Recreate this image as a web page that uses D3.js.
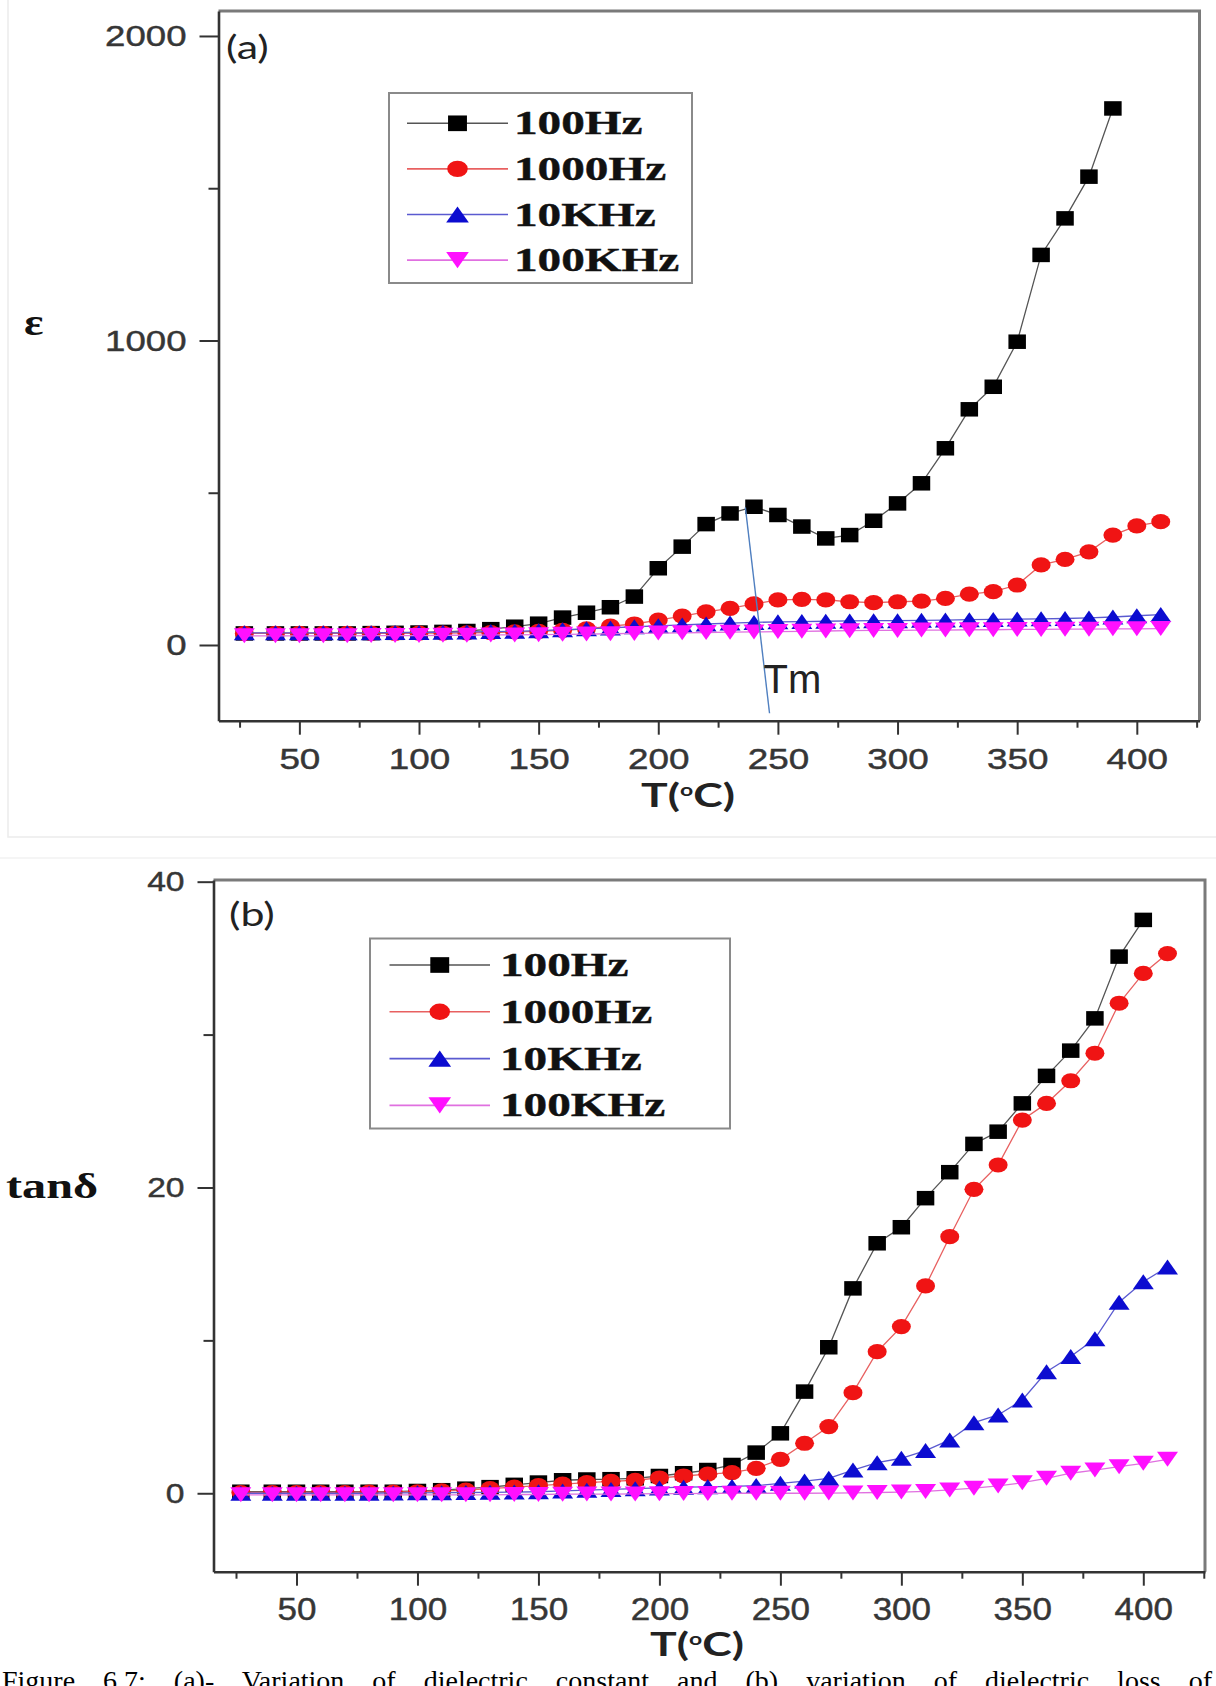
<!DOCTYPE html>
<html>
<head>
<meta charset="utf-8">
<script src="https://cdn.jsdelivr.net/npm/d3@7"></script>
<style>
  html, body { margin: 0; padding: 0; background: #fff; }
  svg { display: block; }
</style>
</head>
<body>
<svg id="fig" width="1216" height="1686"></svg>
<script>
// Measurement temperatures (°C)
const temps = [27, 40, 50, 60, 70, 80, 90, 100, 110, 120, 130, 140, 150, 160, 170, 180, 190, 200, 210, 220,
               230, 240, 250, 260, 270, 280, 290, 300, 310, 320, 330, 340, 350, 360, 370, 380, 390, 400, 410];

const freqLabels = ["100Hz", "1000Hz", "10KHz", "100KHz"];

// (a) dielectric constant ε
const eps100Hz   = [38, 38, 38, 38, 38, 39, 40, 41, 43, 46, 52, 60, 70, 90, 106, 124, 159, 252, 323, 397,
                    432, 454, 427, 389, 350, 361, 408, 465, 531, 646, 774, 848, 996, 1281, 1401, 1538, 1762];
const eps1000Hz  = [38, 38, 38, 38, 38, 38, 38, 39, 39, 40, 41, 43, 45, 48, 53, 62, 69, 82, 95, 109,
                    120, 135, 148, 150, 148, 142, 139, 142, 144, 153, 167, 175, 197, 263, 281, 306, 361, 391, 405];
const eps10KHz   = [40, 40, 40, 40, 40, 40, 41, 41, 42, 43, 44, 45, 47, 50, 53, 56, 60, 63, 66, 69,
                    72, 74, 76, 77, 78, 79, 80, 80, 81, 82, 83, 84, 85, 86, 87, 89, 92, 96, 100];
const eps100KHz  = [30, 30, 30, 30, 30, 31, 31, 31, 32, 32, 33, 33, 34, 35, 36, 37, 38, 39, 40, 41,
                    42, 43, 44, 45, 46, 47, 48, 48, 49, 49, 50, 50, 51, 51, 52, 52, 53, 53, 54];

// (b) dielectric loss tanδ
const tan100Hz   = [0.1, 0.1, 0.1, 0.1, 0.1, 0.1, 0.1, 0.15, 0.2, 0.3, 0.4, 0.55, 0.7, 0.85, 0.9, 0.92, 0.98, 1.13, 1.31, 1.52,
                    1.85, 2.66, 3.92, 6.65, 9.55, 13.4, 16.35, 17.4, 19.3, 21.0, 22.85, 23.65, 25.5, 27.3, 28.95, 31.06, 35.1, 37.5];
const tan1000Hz  = [0.05, 0.05, 0.05, 0.05, 0.05, 0.08, 0.08, 0.1, 0.15, 0.2, 0.3, 0.4, 0.5, 0.6, 0.7, 0.78, 0.85, 1.0, 1.13, 1.25,
                    1.35, 1.63, 2.22, 3.27, 4.36, 6.58, 9.26, 10.9, 13.56, 16.78, 19.88, 21.47, 24.41, 25.5, 26.98, 28.78, 32.05, 34.0, 35.3];
const tan10KHz   = [0.0, 0.0, 0.0, 0.0, 0.0, 0.0, 0.02, 0.03, 0.04, 0.05, 0.06, 0.08, 0.1, 0.15, 0.2, 0.25, 0.3, 0.35, 0.4, 0.42,
                    0.45, 0.5, 0.65, 0.8, 0.98, 1.52, 2.0, 2.29, 2.79, 3.49, 4.62, 5.12, 6.1, 7.95, 8.94, 10.1, 12.5, 13.84, 14.8];
const tan100KHz  = [-0.1, -0.1, -0.1, -0.1, -0.1, -0.1, -0.1, -0.1, -0.1, -0.1, -0.1, -0.08, -0.08, -0.06, -0.05, -0.05, -0.04, -0.03, -0.02, -0.01,
                    0.0, 0.0, 0.0, 0.0, 0.01, 0.02, 0.05, 0.08, 0.12, 0.22, 0.33, 0.48, 0.69, 0.98, 1.31, 1.52, 1.74, 1.96, 2.22];

// Tm guide line on (a): from the 100Hz maximum down below the axis
const tmLineT   = [236.4, 246.5];
const tmLineEps = [452, -224];

// Axis ticks
const xMajorTicks = [50, 100, 150, 200, 250, 300, 350, 400];
const xMinorTicks = [25, 75, 125, 175, 225, 275, 325, 375, 425];
const epsMajorTicks = [0, 1000, 2000];
const epsMinorTicks = [500, 1500];
const tanMajorTicks = [0, 20, 40];
const tanMinorTicks = [10, 30];

const captionText = "Figure 6.7: (a)- Variation of dielectric constant and (b) variation of dielectric loss of";

// ---------------------------------------------------------------------------
const svg = d3.select("#fig");
const seriesStyle = [
  { color: "#000000", line: "#555555", shape: "square" },
  { color: "#f01414", line: "#e86060", shape: "circle" },
  { color: "#0c0cd0", line: "#5a5ad0", shape: "triUp" },
  { color: "#ff10ff", line: "#e070e0", shape: "triDown" }
];

// Text in this figure is wider than its font's natural shape.
function widen(sel, sx) {
  sel.each(function () {
    const t = d3.select(this);
    const x = +t.attr("x") || 0;
    t.attr("x", x / sx).attr("transform", `scale(${sx},1)`);
  });
}

function marker(g, shape, cx, cy, color, k = 1) {
  const w = 8.75 * k, h = 7.25 * k;
  if (shape === "square") {
    g.append("rect").attr("x", cx - w).attr("y", cy - h).attr("width", 2 * w).attr("height", 2 * h).attr("fill", color);
  } else if (shape === "circle") {
    g.append("ellipse").attr("cx", cx).attr("cy", cy).attr("rx", 9.5 * k).attr("ry", 7.6 * k).attr("fill", color);
  } else {
    const tw = 10.5 * k, th = 7.5 * k, s = shape === "triUp" ? 1 : -1;
    g.append("path")
      .attr("d", `M${cx},${cy - s * th}L${cx + tw},${cy + s * th}L${cx - tw},${cy + s * th}Z`)
      .attr("fill", color);
  }
}

function drawPanel(p) {
  const g = svg.append("g");
  const x = d3.scaleLinear().domain(p.xDomain).range([p.left, p.right]);
  const y = d3.scaleLinear().domain(p.yDomain).range([p.bottom, p.top]);

  // top and right frame
  g.append("path")
    .attr("d", `M${p.left},${p.top}H${p.right}V${p.bottom}`)
    .attr("fill", "none").attr("stroke", "#7a7a7a").attr("stroke-width", 3);

  // minor ticks
  const gxm = g.append("g").attr("transform", `translate(0,${p.bottom})`)
    .call(d3.axisBottom(x).tickValues(xMinorTicks).tickSize(7).tickSizeOuter(0).tickFormat(""));
  gxm.select(".domain").remove();
  const gym = g.append("g").attr("transform", `translate(${p.left},0)`)
    .call(d3.axisLeft(y).tickValues(p.yMinor).tickSize(10).tickSizeOuter(0).tickFormat(""));
  gym.select(".domain").remove();

  // major ticks and labels
  const gx = g.append("g").attr("transform", `translate(0,${p.bottom})`)
    .call(d3.axisBottom(x).tickValues(xMajorTicks).tickSize(14).tickSizeOuter(0).tickPadding(p.xPad).tickFormat(d3.format("d")));
  const gy = g.append("g").attr("transform", `translate(${p.left},0)`)
    .call(d3.axisLeft(y).tickValues(p.yMajor).tickSize(p.yTick).tickSizeOuter(0).tickPadding(13).tickFormat(d3.format("d")));

  [gxm, gym, gx, gy].forEach(a => {
    a.selectAll(".tick line").attr("stroke", "#333").attr("stroke-width", 2);
    a.select(".domain").attr("stroke", "#333").attr("stroke-width", 2.6);
  });
  [[gx, p.xFont], [gy, p.yFont]].forEach(([a, fs]) => {
    a.selectAll("text").attr("fill", "#363636").attr("stroke", "#363636").attr("stroke-width", 0.45)
      .attr("font-family", "Liberation Sans, Arial, sans-serif").attr("font-size", fs);
  });
  widen(gx.selectAll("text"), p.xSx);
  widen(gy.selectAll("text"), p.ySx);

  // data
  const clip = "clip" + p.id;
  svg.append("clipPath").attr("id", clip).append("rect")
    .attr("x", p.left).attr("y", p.top).attr("width", p.right - p.left).attr("height", p.bottom - p.top);
  const gd = g.append("g").attr("clip-path", `url(#${clip})`);
  p.series.forEach((vals, i) => {
    const st = seriesStyle[i];
    const pts = vals.map((v, j) => [temps[j], v]);
    gd.append("path")
      .attr("d", d3.line().x(d => x(d[0])).y(d => y(d[1]))(pts))
      .attr("fill", "none").attr("stroke", st.line).attr("stroke-width", 1.3);
    const gm = gd.append("g");
    pts.forEach(d => marker(gm, st.shape, x(d[0]), y(d[1]), st.color));
  });

  // legend
  const L = p.legend;
  g.append("rect").attr("x", L.x0).attr("y", L.y0).attr("width", L.x1 - L.x0).attr("height", L.y1 - L.y0)
    .attr("fill", "#fff").attr("stroke", "#8a8a8a").attr("stroke-width", 2);
  freqLabels.forEach((lab, i) => {
    const st = seriesStyle[i];
    const ry = L.row0 + i * L.step;
    g.append("line").attr("x1", L.lx0).attr("x2", L.lx1).attr("y1", ry).attr("y2", ry)
      .attr("stroke", st.line).attr("stroke-width", 1.6);
    marker(g, st.shape, (L.lx0 + L.lx1) / 2, ry, st.color, 1.08);
    g.append("text").attr("transform", `translate(${L.tx},${ry + 11}) scale(1.39,1)`)
      .attr("font-family", "Liberation Serif, Times New Roman, serif").attr("font-weight", "bold")
      .attr("font-size", 34).attr("fill", "#111").attr("stroke", "#111").attr("stroke-width", 0.4).text(lab);
  });

  // panel tag
  g.append("text").attr("transform", `translate(${p.tag.x},${p.tag.y}) scale(1.3,1)`)
    .attr("font-family", "Lato, Open Sans, sans-serif").attr("font-size", 33).attr("fill", "#222").text(p.tag.text);

  // axis titles
  const xt = g.append("text").attr("transform", `translate(${p.xTitle.x},${p.xTitle.y}) scale(1.35,1)`)
    .attr("text-anchor", "middle").attr("font-family", "Lato, Open Sans, sans-serif")
    .attr("font-weight", "bold").attr("font-size", 33).attr("fill", "#222");
  xt.append("tspan").text("T(");
  xt.append("tspan").attr("font-size", 17).attr("dy", -11).text("o");
  xt.append("tspan").attr("dy", 11).text("C)");

  g.append("text").attr("transform", `translate(${p.yTitle.x},${p.yTitle.y}) scale(${p.yTitle.sx},1)`)
    .attr("font-family", "Liberation Serif, Times New Roman, serif").attr("font-weight", "bold")
    .attr("font-size", p.yTitle.size).attr("fill", "#111").text(p.yTitle.text);

  return { g, x, y };
}

// (a) dielectric constant
const A = drawPanel({
  id: "a", left: 218.5, right: 1199.5, top: 11, bottom: 720.7,
  xDomain: [16.2, 426.2], yDomain: [-248.6, 2082],
  yMajor: epsMajorTicks, yMinor: epsMinorTicks, yTick: 19,
  xFont: 29, xSx: 1.27, xPad: 14, yFont: 30, ySx: 1.22,
  series: [eps100Hz, eps1000Hz, eps10KHz, eps100KHz],
  legend: { x0: 389, x1: 692, y0: 93, y1: 283, lx0: 407, lx1: 508, tx: 514, row0: 123.3, step: 45.6 },
  tag: { text: "(a)", x: 226, y: 59 },
  xTitle: { x: 688, y: 807 },
  yTitle: { text: "ε", x: 24, y: 335, size: 38, sx: 1.2 }
});

// Tm guide and label
A.g.append("line")
  .attr("x1", A.x(tmLineT[0])).attr("y1", A.y(tmLineEps[0]))
  .attr("x2", A.x(tmLineT[1])).attr("y2", A.y(tmLineEps[1]))
  .attr("stroke", "#4f7fc0").attr("stroke-width", 1.4);
A.g.append("text").attr("x", A.x(tmLineT[1]) - 6).attr("y", A.y(tmLineEps[1]) - 20)
  .attr("font-family", "Liberation Sans, Arial, sans-serif").attr("font-size", 40).attr("fill", "#222").text("Tm");

// (b) dielectric loss
drawPanel({
  id: "b", left: 213.5, right: 1205, top: 880, bottom: 1571.7,
  xDomain: [15.7, 425.5], yDomain: [-5.13, 40.11],
  yMajor: tanMajorTicks, yMinor: tanMinorTicks, yTick: 16,
  xFont: 31, xSx: 1.13, xPad: 12, yFont: 28, ySx: 1.2,
  series: [tan100Hz, tan1000Hz, tan10KHz, tan100KHz],
  legend: { x0: 370, x1: 730, y0: 938.5, y1: 1128.5, lx0: 389.5, lx1: 490, tx: 500, row0: 965, step: 46.8 },
  tag: { text: "(b)", x: 229, y: 926 },
  xTitle: { x: 697, y: 1656 },
  yTitle: { text: "tanδ", x: 6, y: 1198, size: 36, sx: 1.34 }
});

// faint edges between the two parts of the figure
svg.append("path").attr("d", "M8,0V837H1216").attr("fill", "none").attr("stroke", "#ececec").attr("stroke-width", 1.5);
svg.append("line").attr("x1", 0).attr("x2", 1216).attr("y1", 858).attr("y2", 858).attr("stroke", "#f2f2f2").attr("stroke-width", 1.5);

// caption (justified across the page width; the page ends partway through its line)
const cap = svg.append("text").attr("x", 2).attr("y", 1690)
  .attr("font-family", "Liberation Serif, Times New Roman, serif").attr("font-size", 28).attr("fill", "#000")
  .text(captionText);
const natural = cap.node().getComputedTextLength();
const gaps = captionText.split(" ").length - 1;
cap.style("word-spacing", `${Math.max(0, (1210 - natural) / gaps)}px`);
</script>
</body>
</html>
